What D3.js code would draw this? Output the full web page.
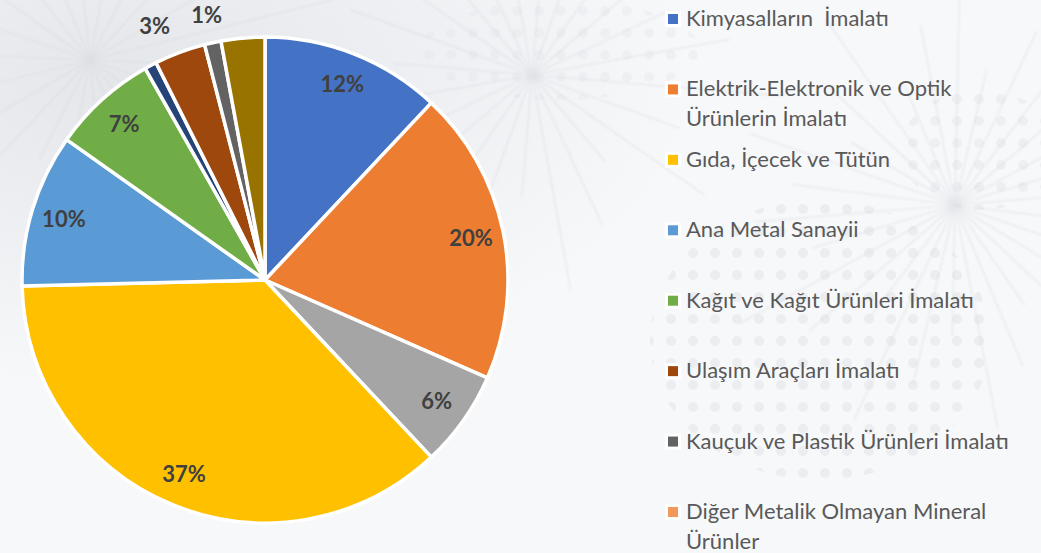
<!DOCTYPE html>
<html lang="tr">
<head>
<meta charset="utf-8">
<script src="https://cdn.jsdelivr.net/npm/d3@7"></script>
<style>
  html, body { margin: 0; padding: 0; background: #f7f8fa; }
  svg { display: block; }
</style>
</head>
<body>
<svg id="chart" width="1041" height="553"></svg>
<script>
// Sector shares (percent), clockwise from 12 o'clock
const sliceValues = [12.0, 19.6, 6.4, 36.6, 10.2, 7.0, 0.8, 3.4, 1.1, 2.9];
const sliceColors = ["#4472C4", "#ED7D31", "#A5A5A5", "#FFC000", "#5B9BD5",
                     "#70AD47", "#264478", "#9E480E", "#636363", "#997300"];
// How each slice's value label is shown
const labelModes = ["in", "in", "in", "in", "in", "in", "none", "out", "out", "none"];

// Legend entries
const legendLabels = [
  ["Kimyasalların  İmalatı"],
  ["Elektrik-Elektronik ve Optik", "Ürünlerin İmalatı"],
  ["Gıda, İçecek ve Tütün"],
  ["Ana Metal Sanayii"],
  ["Kağıt ve Kağıt Ürünleri İmalatı"],
  ["Ulaşım Araçları İmalatı"],
  ["Kauçuk ve Plastik Ürünleri İmalatı"],
  ["Diğer Metalik Olmayan Mineral", "Ürünler"]
];
const legendColors = ["#4472C4", "#ED7D31", "#FFC000", "#5B9BD5",
                      "#70AD47", "#9E480E", "#636363", "#F1975A"];

const W = 1041, H = 553;
const svg = d3.select("#chart");

// ---- soft backdrop: faint network texture ----
const bg = svg.append("g").attr("class", "backdrop");
const defs = svg.append("defs");
const grad = defs.append("radialGradient").attr("id", "haze")
  .attr("cx", "0.12").attr("cy", "0.15").attr("r", "0.55");
grad.append("stop").attr("offset", "0").attr("stop-color", "#e2e4e8");
grad.append("stop").attr("offset", "1").attr("stop-color", "#f7f8fa");
bg.append("rect").attr("width", W).attr("height", H).attr("fill", "#f7f8fa");
bg.append("rect").attr("width", W).attr("height", H).attr("fill", "url(#haze)").attr("opacity", 0.9);

const blur = defs.append("filter").attr("id", "soft");
blur.append("feGaussianBlur").attr("stdDeviation", 0.8);

const dots = defs.append("pattern").attr("id", "dots")
  .attr("width", 22).attr("height", 22).attr("patternUnits", "userSpaceOnUse");
dots.append("circle").attr("cx", 11).attr("cy", 11).attr("r", 5).attr("fill", "#dfe1e5");
bg.append("ellipse").attr("cx", 820).attr("cy", 340).attr("rx", 170).attr("ry", 140)
  .attr("fill", "url(#dots)").attr("opacity", 0.5);
bg.append("ellipse").attr("cx", 980).attr("cy", 150).attr("rx", 80).attr("ry", 60)
  .attr("fill", "url(#dots)").attr("opacity", 0.4);
bg.append("ellipse").attr("cx", 560).attr("cy", 50).attr("rx", 140).attr("ry", 50)
  .attr("fill", "url(#dots)").attr("opacity", 0.3);

const hubs = [[532, 75, 24], [955, 205, 30], [90, 60, 22]];
const spokes = bg.append("g").attr("stroke", "#d4d7dc").attr("stroke-width", 1.2)
  .attr("opacity", 0.55).attr("filter", "url(#soft)");
hubs.forEach(([hx, hy, n]) => {
  d3.range(n).forEach(i => {
    const a = (i / n) * 2 * Math.PI + hx * 0.01;
    const len = 110 + ((i * 53 + hx) % 150);
    spokes.append("line")
      .attr("x1", hx).attr("y1", hy)
      .attr("x2", hx + Math.cos(a) * len).attr("y2", hy + Math.sin(a) * len);
  });
});

// ---- pie ----
const cx = 265, cy = 280, R = 243;
const pie = d3.pie().sort(null).value(d => d)(sliceValues);
const arc = d3.arc().innerRadius(0).outerRadius(R);
const g = svg.append("g").attr("transform", `translate(${cx},${cy})`);

g.selectAll("path.slice").data(pie).join("path")
  .attr("class", "slice")
  .attr("d", arc)
  .attr("fill", (d, i) => sliceColors[i])
  .attr("stroke", "#ffffff")
  .attr("stroke-width", 3.5)
  .attr("stroke-linejoin", "round");

const pct = v => d3.format(".0f")(v) + "%";
const inArc = d3.arc().innerRadius(R * 0.865).outerRadius(R * 0.865);
const outArc = d3.arc().innerRadius(R + 28).outerRadius(R + 28);

g.selectAll("text.val").data(pie.filter((d, i) => labelModes[i] !== "none")).join("text")
  .attr("class", "val")
  .attr("transform", d => {
    const mode = labelModes[d.index];
    const [x, y] = (mode === "out" ? outArc : inArc).centroid(d);
    return `translate(${x},${y})`;
  })
  // outside labels sit beside their slice, on the side away from the top
  .attr("text-anchor", d => labelModes[d.index] === "out" && d.data > 2 ? "end" : "middle")
  .attr("dy", "0.36em")
  .attr("font-family", "Lato, 'Open Sans', sans-serif")
  .attr("font-weight", 700)
  .attr("font-size", 22)
  .attr("fill", "#404040")
  .text(d => pct(d.data));

// ---- legend ----
const legend = svg.append("g").attr("transform", "translate(665,0)");
const rowY = d3.scalePoint().domain(d3.range(legendLabels.length)).range([19, 512]);

const items = legend.selectAll("g.item").data(legendLabels).join("g")
  .attr("class", "item")
  .attr("transform", (d, i) => `translate(0,${rowY(i)})`);

items.append("rect")
  .attr("x", 0).attr("y", -8).attr("width", 16).attr("height", 16)
  .attr("fill", "#ffffff");
items.append("rect")
  .attr("x", 3).attr("y", -5).attr("width", 10).attr("height", 10)
  .attr("fill", (d, i) => legendColors[i]);

items.append("text")
  .attr("font-family", "Lato, 'Open Sans', sans-serif")
  .attr("font-size", 22)
  .attr("fill", "#595959")
  .selectAll("tspan").data(d => d).join("tspan")
  .attr("x", 21)
  .attr("y", (d, j) => 7 + j * 30)
  .style("white-space", "pre")
  .text(d => d);
</script>
</body>
</html>
